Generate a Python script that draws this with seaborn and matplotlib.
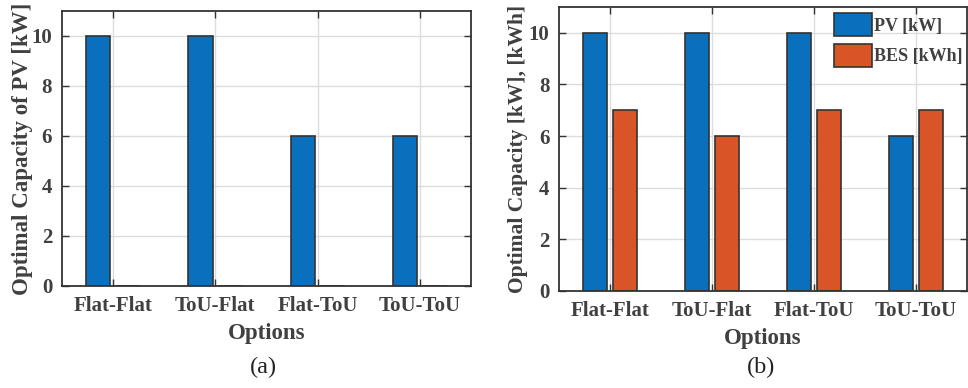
import numpy as np
import pandas as pd
import matplotlib
matplotlib.use("Agg")
import matplotlib.pyplot as plt
import seaborn as sns

options = ["Flat-Flat", "ToU-Flat", "Flat-ToU", "ToU-ToU"]
series = ["PV [kW]", "BES [kWh]"]
pv_a = [10, 10, 6, 6]
second_a = [0, 0, 0, 0]
pv_b = [10, 10, 10, 6]
bes_b = [7, 6, 7, 7]
yticks = [0, 2, 4, 6, 8, 10]

sns.set_style("white")
plt.rcParams["font.family"] = ["Liberation Serif", "DejaVu Serif"]
plt.rcParams["font.weight"] = "bold"
TXT = "#404040"

colors = ["#0a6fbd", "#d95426"]


def make_df(a, b):
    return pd.DataFrame({
        "Option": options * 2,
        "Series": [series[0]] * 4 + [series[1]] * 4,
        "Value": list(a) + list(b),
    })


fig = plt.figure(figsize=(9.68, 3.88), dpi=100)
ax1 = fig.add_axes([0.064, 0.263, 0.4226, 0.709])
ax2 = fig.add_axes([0.5775, 0.25, 0.4215, 0.732])


def style(ax, ylabel, xlab_y, ylab_x, ylab_size):
    ax.set_xlim(-0.5, 3.5)
    ax.set_ylim(0, 11)
    ax.set_yticks(yticks)
    ax.set_axisbelow(True)
    ax.grid(True, color="#dcdcdc", linewidth=1.0)
    for s in ax.spines.values():
        s.set_color("#333333")
        s.set_linewidth(1.3)
        s.set_visible(True)
    ax.tick_params(direction="in", length=5, width=1, colors="#333333",
                   top=True, right=True, bottom=True, left=True,
                   labelsize=15, labelcolor=TXT, pad=7)
    for lab in ax.get_xticklabels() + ax.get_yticklabels():
        lab.set_fontweight("bold")
    ax.set_xlabel("Options", fontsize=16.5, fontweight="bold", color=TXT)
    ax.set_ylabel(ylabel, fontsize=ylab_size, fontweight="bold", color=TXT)
    ax.xaxis.set_label_coords(0.5, xlab_y)
    ax.yaxis.set_label_coords(ylab_x, 0.5)


sns.barplot(data=make_df(pv_a, second_a), x="Option", y="Value", hue="Series",
            order=options, hue_order=series, palette=colors, width=0.58, gap=0.18,
            edgecolor="#333333", linewidth=1.2, saturation=1, legend=False, ax=ax1)
style(ax1, "Optimal Capacity of PV [kW]", -0.135, -0.071, 16.5)

sns.barplot(data=make_df(pv_b, bes_b), x="Option", y="Value", hue="Series",
            order=options, hue_order=series, palette=colors, width=0.58, gap=0.18,
            edgecolor="#333333", linewidth=1.2, saturation=1, ax=ax2)
style(ax2, "Optimal Capacity [kW], [kWh]", -0.131, -0.076, 15.5)

leg = ax2.legend(loc="upper left", bbox_to_anchor=(0.652, 1.01), frameon=False,
                 borderpad=0, handlelength=2.1, handleheight=1.6,
                 handletextpad=0.1, labelspacing=0.4,
                 prop={"family": "Liberation Serif", "weight": "bold", "size": 13})
for t in leg.get_texts():
    t.set_color(TXT)

fig.text(0.272, 0.052, "(a)", ha="center", va="center", fontsize=17.5,
         fontweight="normal", color="#222222")
fig.text(0.786, 0.052, "(b)", ha="center", va="center", fontsize=17.5,
         fontweight="normal", color="#222222")

fig.savefig("out.png", dpi=100)
